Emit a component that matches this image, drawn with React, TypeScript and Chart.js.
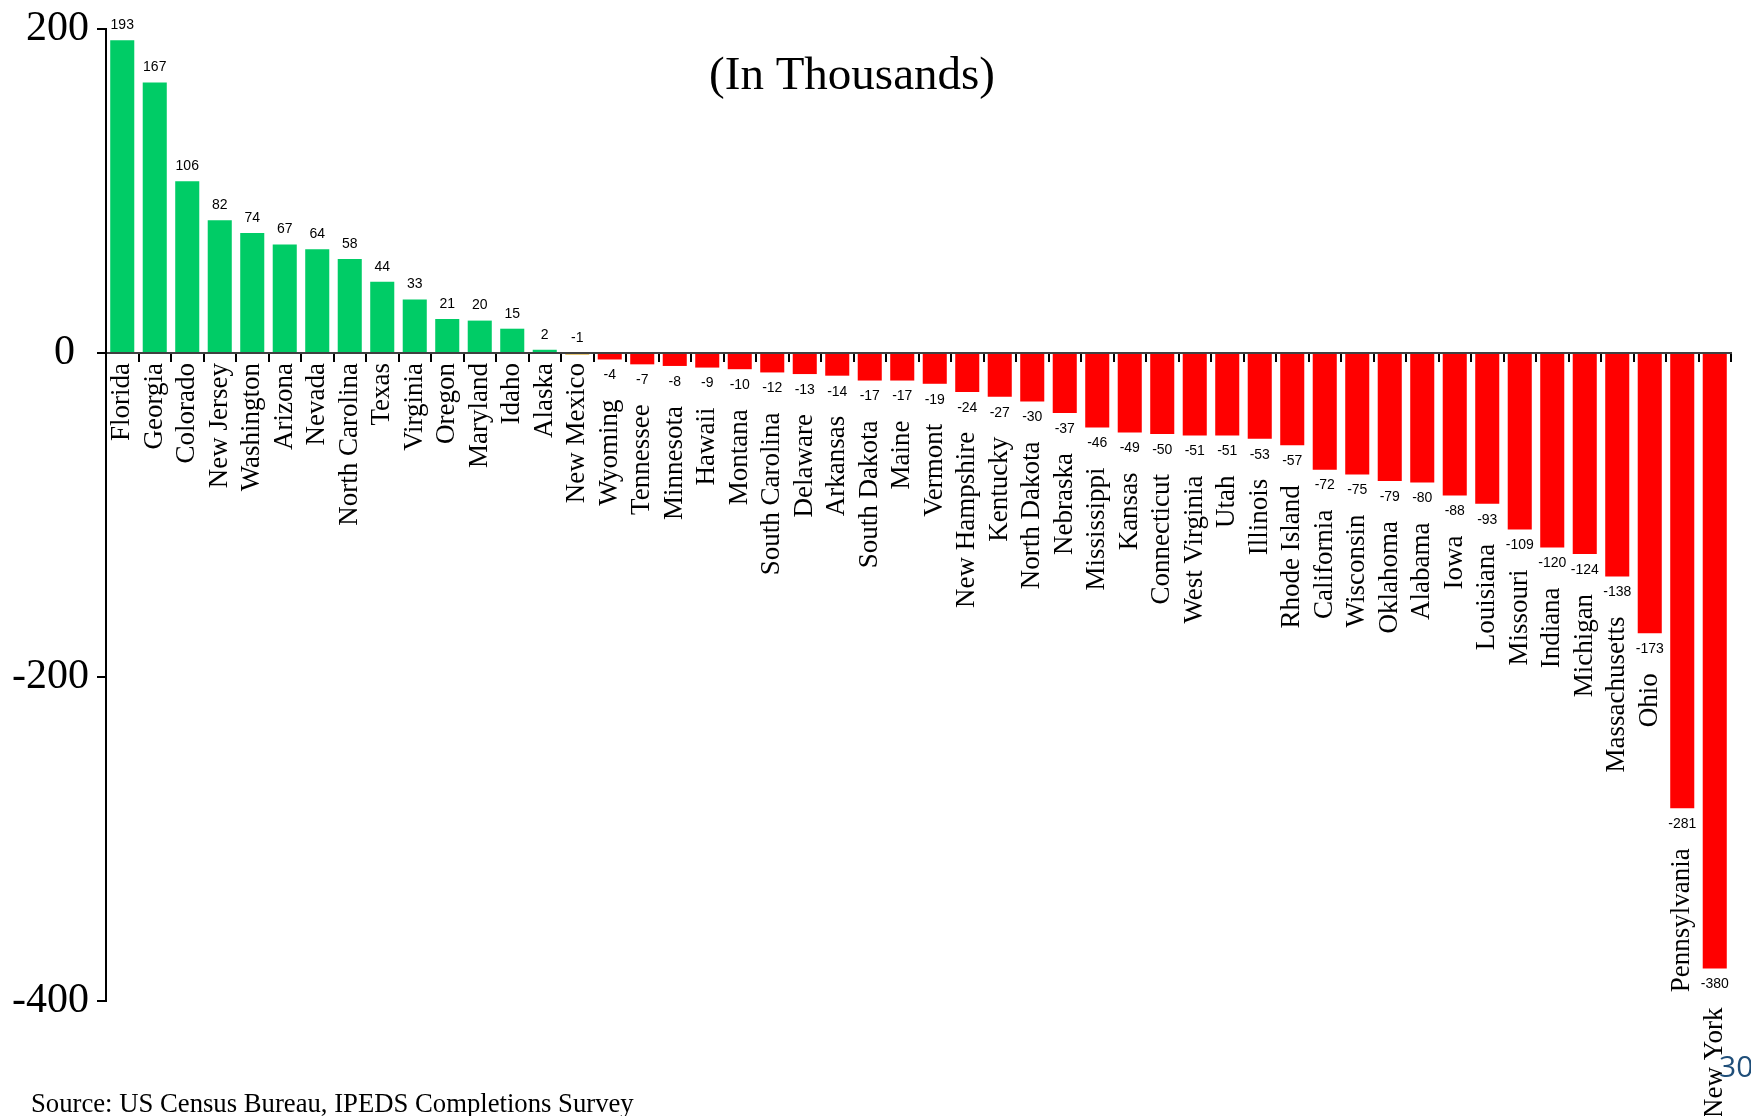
import React, { useEffect, useRef } from "react";
import { Chart, registerables } from "chart.js";

Chart.register(...registerables);

const states: string[] = [
  "Florida", "Georgia", "Colorado", "New Jersey", "Washington", "Arizona", "Nevada",
  "North Carolina", "Texas", "Virginia", "Oregon", "Maryland", "Idaho", "Alaska",
  "New Mexico", "Wyoming", "Tennessee", "Minnesota", "Hawaii", "Montana",
  "South Carolina", "Delaware", "Arkansas", "South Dakota", "Maine", "Vermont",
  "New Hampshire", "Kentucky", "North Dakota", "Nebraska", "Mississippi", "Kansas",
  "Connecticut", "West Virginia", "Utah", "Illinois", "Rhode Island", "California",
  "Wisconsin", "Oklahoma", "Alabama", "Iowa", "Louisiana", "Missouri", "Indiana",
  "Michigan", "Massachusetts", "Ohio", "Pennsylvania", "New York",
];

const changes: number[] = [
  193, 167, 106, 82, 74, 67, 64, 58, 44, 33, 21, 20, 15, 2, -1, -4, -7, -8, -9, -10,
  -12, -13, -14, -17, -17, -19, -24, -27, -30, -37, -46, -49, -50, -51, -51, -53, -57,
  -72, -75, -79, -80, -88, -93, -109, -120, -124, -138, -173, -281, -380,
];

const yMin = -400;
const yMax = 200;
const yStep = 200;

const titleText = "(In Thousands)";
const sourceText = "Source: US Census Bureau, IPEDS Completions Survey";
const pageNumber = "30";

const GREEN = "#00CC66";
const RED = "#FF0000";
const GOLD = "#DAA520";

const colorFor = (v: number) => (v > 0 ? GREEN : v > -2 ? GOLD : RED);

const labelPlugin = {
  id: "customLabels",
  afterDraw(chart: any) {
    const ctx = chart.ctx as CanvasRenderingContext2D;
    const meta = chart.getDatasetMeta(0);
    const yScale = chart.scales.y;
    const zeroY = yScale.getPixelForValue(0);
    const H = chart.height;
    ctx.save();
    meta.data.forEach((bar: any, i: number) => {
      const v = changes[i];
      const props = bar.getProps(["x", "y"], true);
      const x = props.x;
      const by = props.y;
      const catFont = '27px "Liberation Serif", "Times New Roman", serif';
      ctx.font = catFont;
      const textW = ctx.measureText(states[i]).width;
      let valueY: number;
      let catTop: number;
      if (v > -2) {
        valueY = Math.min(by, zeroY) - 15;
        catTop = zeroY + 10;
      } else {
        valueY = by + 16;
        catTop = Math.min(by + 40, Math.max(by + 32, H - textW + 2));
      }
      ctx.fillStyle = "#000";
      ctx.font = '14px "Liberation Sans", Arial, sans-serif';
      ctx.textAlign = "center";
      ctx.textBaseline = "middle";
      ctx.fillText(String(v), x, valueY);

      ctx.save();
      ctx.translate(x, catTop);
      ctx.rotate(-Math.PI / 2);
      ctx.textAlign = "right";
      ctx.textBaseline = "middle";
      ctx.font = catFont;
      ctx.fillText(states[i], 0, 0);
      ctx.restore();
    });

    // title
    ctx.fillStyle = "#000";
    ctx.font = '47px "Liberation Serif", "Times New Roman", serif';
    ctx.textAlign = "center";
    ctx.textBaseline = "alphabetic";
    ctx.fillText(titleText, 852, 89);

    // source
    ctx.font = '26.7px "Liberation Serif", "Times New Roman", serif';
    ctx.textAlign = "left";
    ctx.fillText(sourceText, 31, 1112);

    // page number
    ctx.fillStyle = "#1F4E79";
    ctx.font = '30px "Open Sans", sans-serif';
    ctx.textAlign = "left";
    ctx.fillText(pageNumber, 1719, 1077);
    ctx.restore();
  },
};

export default function App() {
  const canvasRef = useRef<HTMLCanvasElement | null>(null);

  useEffect(() => {
    const canvas = canvasRef.current;
    if (!canvas) return;
    const chart = new Chart(canvas, {
      type: "bar",
      data: {
        labels: states,
        datasets: [
          {
            data: changes,
            backgroundColor: changes.map(colorFor),
            borderWidth: 0,
            categoryPercentage: 1,
            barPercentage: 0.74,
          },
        ],
      },
      options: {
        responsive: false,
        animation: false,
        events: [],
        layout: { padding: { left: 0, right: 20, top: 23, bottom: 115 } },
        plugins: {
          legend: { display: false },
          title: { display: false },
          tooltip: { enabled: false },
        },
        scales: {
          x: {
            type: "category",
            position: { y: 0 } as any,
            z: 1,
            offset: true,
            grid: {
              offset: true,
              drawOnChartArea: false,
              drawTicks: true,
              tickLength: 8,
              color: "#000",
              lineWidth: 2,
            },
            border: { display: true, color: "#404040", width: 2 },
            ticks: { display: false },
          },
          y: {
            min: yMin,
            max: yMax,
            position: "left",
            z: 1,
            afterFit: (scale: any) => {
              scale.width = 106;
            },
            grid: {
              drawOnChartArea: false,
              drawTicks: true,
              tickLength: 9,
              color: "#000",
              lineWidth: 2,
            },
            border: { display: true, color: "#000", width: 2 },
            ticks: {
              stepSize: yStep,
              padding: 8,
              color: "#000",
              callback: (v: any) => (Number(v) === 0 ? "0 \u200A" : String(v)),
              font: { family: '"Liberation Serif", "Times New Roman", serif', size: 42, lineHeight: 1 },
            },
          },
        },
      },
      plugins: [labelPlugin],
    });
    return () => chart.destroy();
  }, []);

  return (
    <div style={{ position: "absolute", left: 0, top: 0, width: 1751, height: 1116, background: "#fff" }}>
      <canvas ref={canvasRef} width={1751} height={1116} style={{ width: 1751, height: 1116, display: "block" }} />
    </div>
  );
}
